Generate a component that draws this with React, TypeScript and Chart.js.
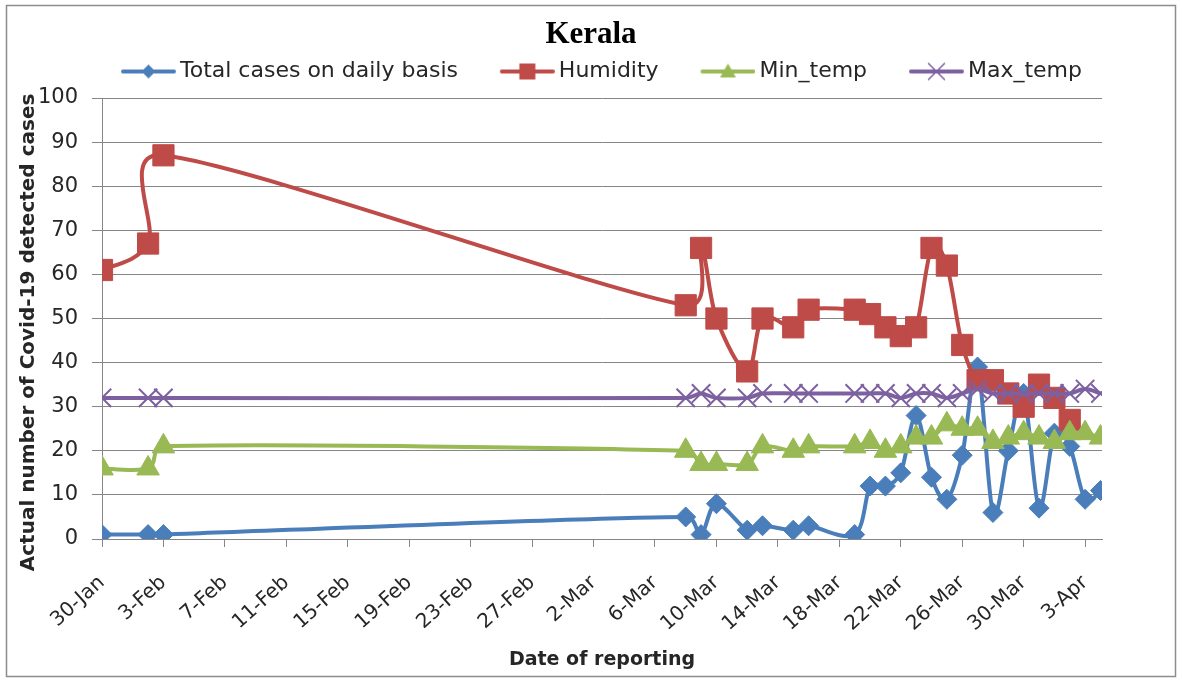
import React, { useEffect, useRef } from "react";
import { Chart, registerables } from "chart.js";

Chart.register(...registerables);

// ---------- data ----------
const reportDates = [
  "2020-01-30", "2020-02-02", "2020-02-03", "2020-03-08", "2020-03-09",
  "2020-03-10", "2020-03-12", "2020-03-13", "2020-03-15", "2020-03-16",
  "2020-03-19", "2020-03-20", "2020-03-21", "2020-03-22", "2020-03-23",
  "2020-03-24", "2020-03-25", "2020-03-26", "2020-03-27", "2020-03-28",
  "2020-03-29", "2020-03-30", "2020-03-31", "2020-04-01", "2020-04-02",
  "2020-04-03", "2020-04-04",
];
const totalCases = [1, 1, 1, 5, 1, 8, 2, 3, 2, 3, 1, 12, 12, 15, 28, 14, 9, 19, 39, 6, 20, 33, 7, 24, 21, 9, 11];
const humidity = [61, 67, 87, 53, 66, 50, 38, 50, 48, 52, 52, 51, 48, 46, 48, 66, 62, 44, 36, 36, 33, 30, 35, 32, 27, null, null];
const minTemp = [16, 16, 21, 20, 17, 17, 17, 21, 20, 21, 21, 22, 20, 21, 23, 23, 26, 25, 25, 22, 23, 24, 23, 22, 24, 24, 23];
const maxTemp = [32, 32, 32, 32, 33, 32, 32, 33, 33, 33, 33, 33, 33, 32, 33, 33, 32, 33, 34, 33, 33, 33, 33, 33, 33, 34, 33];

const seriesNames = ["Total cases on daily basis", "Humidity", "Min_temp", "Max_temp"];
const monthNames = ["Jan", "Feb", "Mar", "Apr", "May", "Jun", "Jul", "Aug", "Sep", "Oct", "Nov", "Dec"];
const xTickStepDays = 4;
const xAxisMaxDays = 65.1;
const yAxisMin = 0;
const yAxisMax = 100;
const yTickStep = 10;

const chartTitle = "Kerala";
const xAxisTitle = "Date of reporting";
const yAxisTitle = "Actual number of Covid-19 detected cases";

// ---------- helpers ----------
const DAY = 86400000;
const parseUTC = (s: string) => {
  const [y, m, d] = s.split("-").map(Number);
  return Date.UTC(y, m - 1, d);
};
const origin = parseUTC(reportDates[0]);
const dayIndex = (s: string) => Math.round((parseUTC(s) - origin) / DAY);
const formatDay = (v: number) => {
  const d = new Date(origin + v * DAY);
  return `${d.getUTCDate()}-${monthNames[d.getUTCMonth()]}`;
};
const toPoints = (vals: (number | null)[]) =>
  reportDates
    .map((d, i) => ({ x: dayIndex(d), y: vals[i] }))
    .filter((p) => p.y !== null && p.y !== undefined);

const BLUE = "#4A7EBB";
const RED = "#BE4B48";
const GREEN = "#98B954";
const PURPLE = "#7D60A0";
const FONT = "'DejaVu Sans', sans-serif";
const TEXT = "#262626";
const GRID = "#868686";

const LEG_FONT = 22;
const LEG_BOX = 76;
const LEG_IMG_W = LEG_BOX + LEG_FONT / 2 * 2 - 8;
const LEG_LINE = 55;

function legendImage(color: string, kind: string) {
  const c = document.createElement("canvas");
  c.width = LEG_IMG_W;
  c.height = 24;
  const ctx = c.getContext("2d")!;
  const y = 12;
  ctx.strokeStyle = color;
  ctx.fillStyle = color;
  ctx.lineWidth = 4;
  ctx.lineCap = "round";
  ctx.beginPath();
  ctx.moveTo(LEG_IMG_W - LEG_LINE + 2, y);
  ctx.lineTo(LEG_IMG_W - 2, y);
  ctx.stroke();
  const cx = LEG_IMG_W - LEG_LINE / 2;
  ctx.beginPath();
  if (kind === "diamond") {
    ctx.moveTo(cx - 7, y);
    ctx.lineTo(cx, y - 7);
    ctx.lineTo(cx + 7, y);
    ctx.lineTo(cx, y + 7);
    ctx.closePath();
    ctx.fill();
  } else if (kind === "square") {
    ctx.rect(cx - 8, y - 8, 16, 16);
    ctx.fill();
  } else if (kind === "triangle") {
    ctx.moveTo(cx, y - 8);
    ctx.lineTo(cx + 8, y + 6);
    ctx.lineTo(cx - 8, y + 6);
    ctx.closePath();
    ctx.fill();
  } else {
    ctx.lineWidth = 1.5;
    ctx.moveTo(cx - 8, y - 8);
    ctx.lineTo(cx + 8, y + 8);
    ctx.moveTo(cx + 8, y - 8);
    ctx.lineTo(cx - 8, y + 8);
    ctx.stroke();
  }
  return c;
}

const framePlugin = {
  id: "frame",
  beforeDraw(chart: any) {
    const ctx = chart.ctx;
    ctx.save();
    ctx.fillStyle = "#ffffff";
    ctx.fillRect(0, 0, chart.width, chart.height);
    ctx.strokeStyle = "#8c8c8c";
    ctx.lineWidth = 1.5;
    ctx.strokeRect(6.5, 5.5, 1169, 671);
    ctx.restore();
  },
};

// Spreadsheet-style smoothing: uniform Catmull-Rom control points (1/6 of neighbour span),
// limited to half the adjacent segment length.
const smoothPlugin = {
  id: "sheetSmooth",
  beforeDatasetDraw(chart: any, args: any) {
    const line = args.meta && args.meta.dataset;
    if (!line || !line.points) return;
    if (typeof line.updateControlPoints === "function") {
      line.updateControlPoints(chart.chartArea, "x");
    }
    const pts = line.points;
    for (let i = 0; i < pts.length; i++) {
      const p = pts[i];
      const prev = pts[i - 1] || p;
      const next = pts[i + 1] || p;
      const dx = (next.x - prev.x) / 6;
      const dy = (next.y - prev.y) / 6;
      const len = Math.hypot(dx, dy);
      const l1 = Math.hypot(p.x - prev.x, p.y - prev.y);
      const l2 = Math.hypot(next.x - p.x, next.y - p.y);
      const s1 = len > 0 ? Math.min(1, (0.5 * l1) / len) : 0;
      const s2 = len > 0 ? Math.min(1, (0.5 * l2) / len) : 0;
      p.cp1x = p.x - dx * s1;
      p.cp1y = p.y - dy * s1;
      p.cp2x = p.x + dx * s2;
      p.cp2y = p.y + dy * s2;
    }
    line._path = undefined;
  },
};

export default function App() {
  const ref = useRef<HTMLCanvasElement | null>(null);

  useEffect(() => {
    if (!ref.current) return;
    const legendKinds = ["diamond", "square", "triangle", "cross"];
    const colors = [BLUE, RED, GREEN, PURPLE];
    const images = colors.map((c, i) => legendImage(c, legendKinds[i]));

    const chart = new Chart(ref.current, {
      type: "line",
      data: {
        datasets: [
          {
            label: seriesNames[0],
            data: toPoints(totalCases),
            borderColor: BLUE,
            backgroundColor: BLUE,
            borderWidth: 4,
            pointStyle: "rectRot",
            pointRadius: 10,
            pointBorderWidth: 1,
            tension: 0.3,
            order: 4,
          },
          {
            label: seriesNames[1],
            data: toPoints(humidity),
            borderColor: RED,
            backgroundColor: RED,
            borderWidth: 4,
            pointStyle: "rect",
            pointRadius: 15,
            pointBorderWidth: 1,
            tension: 0.3,
            order: 3,
          },
          {
            label: seriesNames[2],
            data: toPoints(minTemp),
            borderColor: GREEN,
            backgroundColor: GREEN,
            borderWidth: 4,
            pointStyle: "triangle",
            pointRadius: 13,
            pointBorderWidth: 1,
            tension: 0.3,
            order: 2,
          },
          {
            label: seriesNames[3],
            data: toPoints(maxTemp),
            borderColor: PURPLE,
            backgroundColor: PURPLE,
            borderWidth: 4,
            pointStyle: "crossRot",
            pointRadius: 13,
            pointBorderWidth: 2,
            tension: 0.3,
            order: 1,
          },
        ] as any,
      },
      options: {
        animation: false,
        responsive: false,
        maintainAspectRatio: false,
        layout: { padding: { left: 10, right: 10, top: 0, bottom: 0 } },
        plugins: {
          title: {
            display: true,
            text: chartTitle,
            color: "#000",
            font: { family: "'Liberation Serif', serif", size: 31, weight: "bold" },
            padding: { top: 16.4, bottom: 0 },
          },
          legend: {
            position: "top",
            labels: {
              usePointStyle: true,
              pointStyleWidth: LEG_BOX,
              padding: 6.9,
              color: TEXT,
              font: { family: FONT, size: LEG_FONT },
              sort: (a: any, b: any) => a.datasetIndex - b.datasetIndex,
              generateLabels: (ch: any) =>
                ch.data.datasets.map((ds: any, i: number) => ({
                  text: ds.label + " ",
                  datasetIndex: i,
                  pointStyle: images[i],
                  fillStyle: colors[i],
                  strokeStyle: colors[i],
                  lineWidth: 0,
                  hidden: false,
                  fontColor: TEXT,
                })),
            },
          },
          tooltip: { enabled: false },
        },
        scales: {
          x: {
            type: "linear",
            position: "bottom",
            min: 0,
            max: xAxisMaxDays,
            afterFit: (s: any) => {
              s.height = 142;
            },
            afterBuildTicks: (s: any) => {
              s.ticks = s.ticks.filter((t: any) => Math.abs(t.value % xTickStepDays) < 1e-6);
            },
            ticks: {
              stepSize: xTickStepDays,
              includeBounds: false,
              autoSkip: false,
              minRotation: 42,
              maxRotation: 42,
              padding: 24,
              color: TEXT,
              font: { family: FONT, size: 20 },
              callback: (v: any) => formatDay(Number(v)),
            },
            grid: {
              display: true,
              drawOnChartArea: false,
              drawTicks: true,
              tickLength: 8,
              color: GRID,
            },
            border: { display: true, color: GRID, width: 1 },
            title: {
              display: true,
              text: xAxisTitle,
              color: TEXT,
              font: { family: FONT, size: 19, weight: "bold" },
              padding: { top: 0, bottom: 9.6 },
            },
          },
          xTop: {
            type: "linear",
            position: "top",
            display: true,
            ticks: { display: false },
            grid: { display: false, drawTicks: false },
            border: { display: false },
            afterFit: (s: any) => {
              s.height = 5.5;
            },
          },
          y: {
            type: "linear",
            position: "left",
            min: yAxisMin,
            max: yAxisMax,
            afterFit: (s: any) => {
              s.width = 92;
            },
            ticks: {
              stepSize: yTickStep,
              padding: 14,
              color: TEXT,
              font: { family: FONT, size: 21 },
            },
            grid: { color: GRID, tickLength: 10, drawTicks: true },
            border: { display: true, color: GRID },
            title: {
              display: true,
              text: yAxisTitle + "    ",
              color: TEXT,
              font: { family: FONT, size: 20, weight: "bold" },
              padding: { top: 7, bottom: 0 },
            },
          },
          yRight: {
            type: "linear",
            position: "right",
            display: true,
            ticks: { display: false },
            grid: { display: false, drawTicks: false },
            border: { display: false },
            afterFit: (s: any) => {
              s.width = 70;
            },
          },
        },
      } as any,
      plugins: [framePlugin, smoothPlugin],
    });
    return () => chart.destroy();
  }, []);

  return (
    <div style={{ position: "fixed", left: 0, top: 0, width: 1182, height: 681, background: "#fff" }}>
      <canvas ref={ref} width={1182} height={681} style={{ width: 1182, height: 681, display: "block" }} />
    </div>
  );
}
